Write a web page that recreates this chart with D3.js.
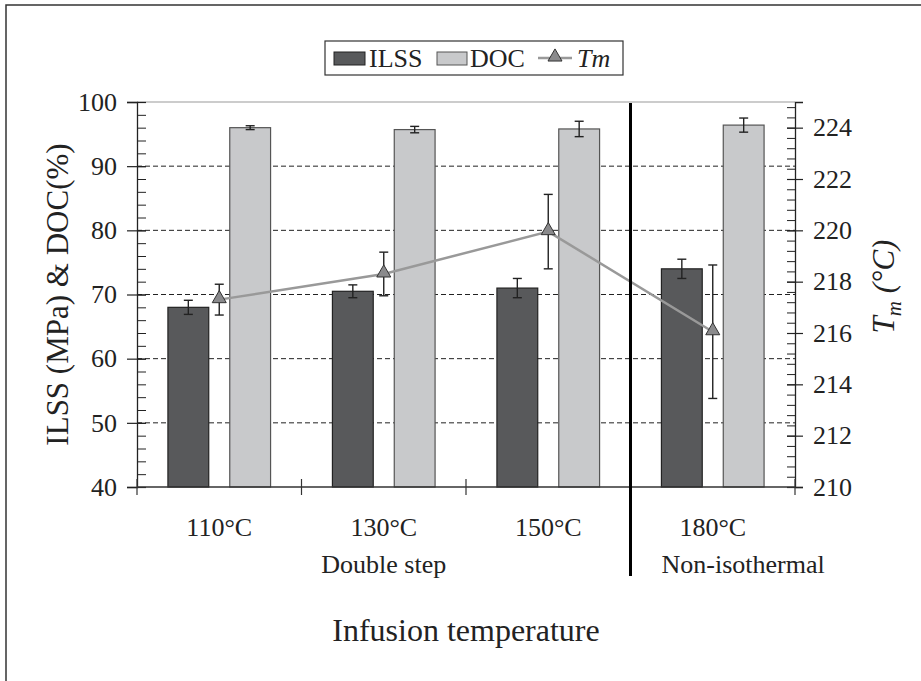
<!DOCTYPE html>
<html>
<head>
<meta charset="utf-8">
<script src="https://cdn.jsdelivr.net/npm/d3@7"></script>
<style>
  body { margin: 0; background: #fff; }
  svg text { font-family: "Liberation Serif", "Times New Roman", Times, serif !important; fill: #222; }
</style>
</head>
<body>
<svg id="chart" width="921" height="681" font-family="Liberation Serif, Times New Roman, serif"></svg>
<script>
// chart values
var categories = ["110°C", "130°C", "150°C", "180°C"];
var group_labels = ["Double step", "Non-isothermal"];
var ilss = [68, 70.5, 71, 74];
var ilss_err = [1.1, 1.0, 1.5, 1.5];
var doc = [96, 95.7, 95.8, 96.4];
var doc_err = [0.3, 0.5, 1.2, 1.1];
var tm = [217.3, 218.3, 219.95, 216.05];
var tm_err = [0.6, 0.85, 1.45, 2.6];
var left_ticks = [40, 50, 60, 70, 80, 90, 100];
var right_ticks = [210, 212, 214, 216, 218, 220, 222, 224];

var svg = d3.select("#chart");
var margin = {top: 102, right: 126, bottom: 194, left: 137};
var W = 921 - margin.left - margin.right,
    H = 681 - margin.top - margin.bottom;

// outer frame (only top and left show in the figure)
svg.append("path")
  .attr("d", "M6,681V5H921")
  .attr("fill", "none")
  .attr("stroke", "#333")
  .attr("stroke-width", 1.5);

var g = svg.append("g").attr("transform", "translate(" + margin.left + "," + margin.top + ")");

var x = d3.scaleBand().domain(categories).range([0, W]).padding(0);
var xi = d3.scaleBand().domain(["ILSS", "DOC"]).range([0, x.bandwidth()])
  .paddingInner(0.34).paddingOuter(0.5);
var y = d3.scaleLinear().domain([40, 100]).range([H, 0]);
var y2 = d3.scaleLinear().domain([210, 225]).range([H, 0]);

// dashed gridlines
g.selectAll(".grid").data([50, 60, 70, 80, 90])
  .enter().append("line")
    .attr("x1", 0).attr("x2", W)
    .attr("y1", function(d) { return y(d) }).attr("y2", function(d) { return y(d) })
    .attr("stroke", "#222").attr("stroke-width", 1)
    .attr("stroke-dasharray", "5,3");

// top border of the plot area
g.append("line").attr("x1", 0).attr("x2", W).attr("y1", 0).attr("y2", 0)
  .attr("stroke", "#999").attr("stroke-width", 1.2);

// bars
var cat = g.selectAll(".cat").data(categories).enter().append("g")
  .attr("transform", function(d) { return "translate(" + x(d) + ",0)" });

cat.append("rect")
  .attr("x", xi("ILSS")).attr("width", xi.bandwidth())
  .attr("y", function(d, i) { return y(ilss[i]) })
  .attr("height", function(d, i) { return H - y(ilss[i]) })
  .attr("fill", "#58595b").attr("stroke", "#222").attr("stroke-width", 1.2);

cat.append("rect")
  .attr("x", xi("DOC")).attr("width", xi.bandwidth())
  .attr("y", function(d, i) { return y(doc[i]) })
  .attr("height", function(d, i) { return H - y(doc[i]) })
  .attr("fill", "#c8c9cb").attr("stroke", "#555").attr("stroke-width", 1.2);

function errbar(sel, cx, top, bot) {
  sel.append("line").attr("x1", cx).attr("x2", cx).attr("y1", top).attr("y2", bot);
  sel.append("line").attr("x1", cx - 4.5).attr("x2", cx + 4.5).attr("y1", top).attr("y2", top);
  sel.append("line").attr("x1", cx - 4.5).attr("x2", cx + 4.5).attr("y1", bot).attr("y2", bot);
}

cat.each(function(d, i) {
  var e = d3.select(this).append("g").attr("stroke", "#222").attr("stroke-width", 1.4);
  var c1 = xi("ILSS") + xi.bandwidth() / 2,
      c2 = xi("DOC") + xi.bandwidth() / 2,
      c3 = x.bandwidth() / 2;
  errbar(e, c1, y(ilss[i] + ilss_err[i]), y(ilss[i] - ilss_err[i]));
  errbar(e, c2, y(doc[i] + doc_err[i]), y(doc[i] - doc_err[i]));
  errbar(e, c3, y2(tm[i] + tm_err[i]), y2(tm[i] - tm_err[i]));
});

// Tm line + triangles
var tmline = d3.line()
  .x(function(d, i) { return x(categories[i]) + x.bandwidth() / 2 })
  .y(function(d) { return y2(d) });

g.append("path").datum(tm)
  .attr("d", tmline)
  .attr("fill", "none").attr("stroke", "#999").attr("stroke-width", 2.5);

var tri = d3.symbol().type(d3.symbolTriangle).size(85);
g.selectAll(".tri").data(tm).enter().append("path")
  .attr("d", tri)
  .attr("transform", function(d, i) {
    return "translate(" + (x(categories[i]) + x.bandwidth() / 2) + "," + (y2(d) - 1) + ")" })
  .attr("fill", "#8a8a8c").attr("stroke", "#333").attr("stroke-width", 1);

// left axis
var la = g.append("g").call(d3.axisLeft(y).tickValues(left_ticks).tickSize(10).tickPadding(10));
la.attr("font-family", null);
la.select(".domain").attr("stroke", "#222").attr("stroke-width", 1.3);
la.selectAll(".tick line").attr("x2", -10).attr("x1", 9).attr("stroke", "#222").attr("stroke-width", 1.2);
la.selectAll("text").attr("font-size", 26).attr("fill", "#222");

g.append("g").call(d3.axisLeft(y).tickValues(d3.range(40, 100.1, 2)).tickSize(-9).tickFormat(""))
  .call(function(s) { s.select(".domain").remove(); s.selectAll("line").attr("stroke", "#222") });

// right axis
var ra = g.append("g").attr("transform", "translate(" + W + ",0)")
  .call(d3.axisRight(y2).tickValues(right_ticks).tickSize(8).tickPadding(10));
ra.attr("font-family", null);
ra.select(".domain").attr("stroke", "#222").attr("stroke-width", 1.3);
ra.selectAll(".tick line").attr("x1", -8).attr("stroke", "#222").attr("stroke-width", 1.2);
ra.selectAll("text").attr("font-size", 26).attr("fill", "#222");

g.append("g").attr("transform", "translate(" + W + ",0)")
  .call(d3.axisRight(y2).tickValues(d3.range(210, 225, 0.4)).tickSize(-8).tickFormat(""))
  .call(function(s) { s.select(".domain").remove(); s.selectAll("line").attr("stroke", "#222") });

// bottom axis: line + ticks at category borders
g.append("line").attr("x1", 0).attr("x2", W).attr("y1", H).attr("y2", H)
  .attr("stroke", "#333").attr("stroke-width", 1.3);
var borders = categories.map(function(d) { return x(d) }).concat([W]);
g.selectAll(".btick").data(borders).enter().append("line")
  .attr("x1", function(d) { return d }).attr("x2", function(d) { return d })
  .attr("y1", H - 8).attr("y2", H + 8)
  .attr("stroke", "#333").attr("stroke-width", 1.2);

g.selectAll(".clab").data(categories).enter().append("text")
  .attr("x", function(d) { return x(d) + x.bandwidth() / 2 })
  .attr("y", H + 49)
  .attr("text-anchor", "middle").attr("font-size", 26)
  .text(function(d) { return d });

g.append("text")
  .attr("x", (x(categories[0]) + x(categories[2]) + x.bandwidth()) / 2)
  .attr("y", H + 86)
  .attr("text-anchor", "middle").attr("font-size", 26)
  .text(group_labels[0]);

g.append("text")
  .attr("x", x(categories[3]) + 31)
  .attr("y", H + 86)
  .attr("text-anchor", "start").attr("font-size", 26)
  .text(group_labels[1]);

// divider between double step and non-isothermal
g.append("line")
  .attr("x1", x(categories[3])).attr("x2", x(categories[3]))
  .attr("y1", 1).attr("y2", H + 89)
  .attr("stroke", "#000").attr("stroke-width", 3);

// axis titles
svg.append("text")
  .attr("transform", "translate(68," + (margin.top + H / 2) + ") rotate(-90)")
  .attr("text-anchor", "middle").attr("font-size", 31)
  .text("ILSS (MPa) & DOC(%)");

var rt = svg.append("text")
  .attr("transform", "translate(894," + (margin.top + H / 2 - 8) + ") rotate(-90)")
  .attr("text-anchor", "middle").attr("font-size", 31).attr("font-style", "italic");
rt.append("tspan").text("T");
rt.append("tspan").attr("font-size", 21).attr("dy", 7).text("m");
rt.append("tspan").attr("dy", -7).text(" (°C)");

svg.append("text")
  .attr("x", 466).attr("y", 641)
  .attr("text-anchor", "middle").attr("font-size", 32)
  .text("Infusion temperature");

// legend
var lg = svg.append("g");
lg.append("rect").attr("x", 325).attr("y", 41).attr("width", 298).attr("height", 34)
  .attr("fill", "#fff").attr("stroke", "#333").attr("stroke-width", 1.2);
lg.append("rect").attr("x", 334).attr("y", 52).attr("width", 31).attr("height", 13)
  .attr("fill", "#58595b").attr("stroke", "#222");
lg.append("text").attr("x", 369).attr("y", 67).attr("font-size", 26).text("ILSS");
lg.append("rect").attr("x", 437).attr("y", 52).attr("width", 30).attr("height", 13)
  .attr("fill", "#c8c9cb").attr("stroke", "#555");
lg.append("text").attr("x", 470).attr("y", 67).attr("font-size", 26).text("DOC");
lg.append("line").attr("x1", 538).attr("x2", 572).attr("y1", 58).attr("y2", 58)
  .attr("stroke", "#999").attr("stroke-width", 2.5);
lg.append("path").attr("d", tri).attr("transform", "translate(555,57)")
  .attr("fill", "#8a8a8c").attr("stroke", "#333");
lg.append("text").attr("x", 577).attr("y", 67).attr("font-size", 26).attr("font-style", "italic").text("Tm");
</script>
</body>
</html>
